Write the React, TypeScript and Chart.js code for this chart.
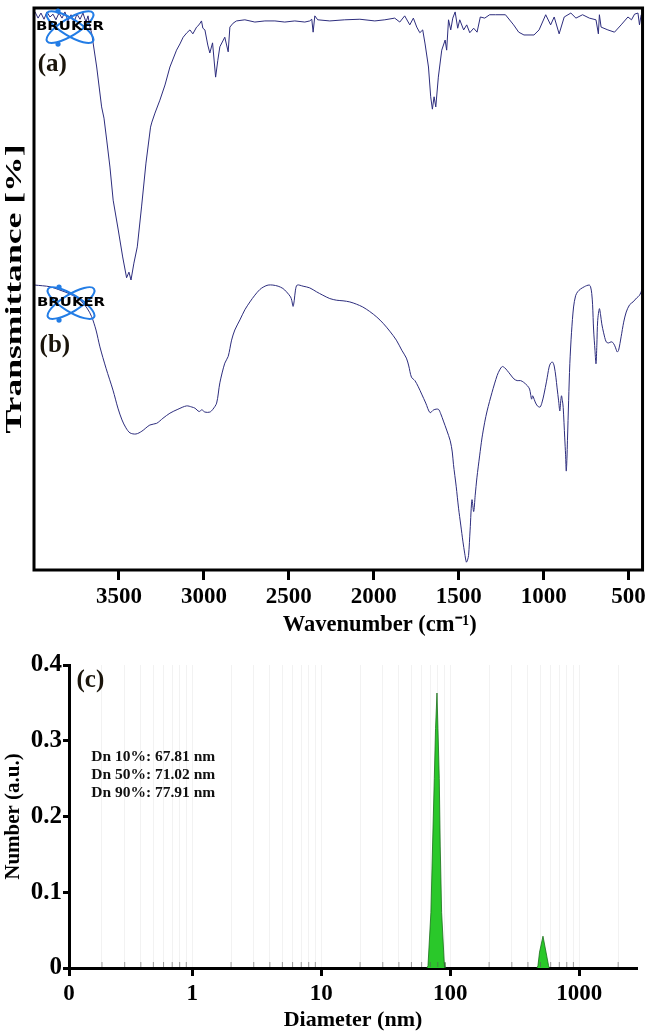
import React, { useEffect, useRef } from "react";
import { Chart, registerables } from "chart.js";

Chart.register(...registerables);

// ---------- FTIR (panels a, b) ----------
const FTIR_TICKS = [3500, 3000, 2500, 2000, 1500, 1000, 500];
const FTIR_X_TITLE = "Wavenumber (cm\u207B\u00B9)";
const FTIR_Y_TITLE = "Transmittance [%]";

const WAVE_A = [
  3994, 3976, 3959, 3941, 3924, 3906, 3888, 3871, 3853, 3835,
  3818, 3800, 3782, 3765, 3747, 3729, 3712, 3694, 3682, 3671,
  3661, 3631, 3602, 3588, 3572, 3553, 3534, 3504, 3478, 3455,
  3441, 3429, 3412, 3392, 3367, 3341, 3314, 3306, 3288, 3259,
  3229, 3200, 3161, 3141, 3122, 3100, 3082, 3065, 3043, 3029,
  3014, 3006, 2994, 2977, 2965, 2949, 2931, 2918, 2906, 2877,
  2857, 2847, 2828, 2808, 2759, 2700, 2641, 2582, 2524, 2465,
  2406, 2377, 2365, 2357, 2347, 2330, 2259, 2171, 2082, 1994,
  1935, 1877, 1847, 1818, 1788, 1767, 1747, 1729, 1712, 1698,
  1678, 1665, 1655, 1645, 1635, 1620, 1600, 1580, 1571, 1560,
  1547, 1535, 1521, 1506, 1494, 1471, 1453, 1435, 1412, 1392,
  1373, 1347, 1318, 1284, 1225, 1177, 1147, 1116, 1057, 1027,
  988, 959, 938, 909, 879, 840, 810, 771, 731, 692,
  678, 672, 662, 622, 583, 544, 504, 483, 465, 445,
  436, 426,
];
const TRANS_A = [
  99.3, 98.2, 99.1, 98.0, 99.3, 98.4, 98.9, 97.9, 99.1, 98.2,
  99.3, 97.7, 98.8, 97.5, 98.9, 98.0, 99.1, 97.5, 98.6, 96.6,
  95.6, 89.5, 82.4, 80.4, 76.5, 71.7, 65.8, 60.5, 55.7, 52.0,
  53.0, 51.6, 54.6, 57.5, 64.6, 72.4, 78.8, 79.7, 81.3, 83.6,
  86.3, 89.5, 92.5, 93.6, 94.8, 95.6, 96.1, 95.4, 96.6, 97.0,
  97.7, 96.4, 96.1, 93.4, 92.0, 93.8, 87.7, 90.7, 93.1, 94.8,
  92.2, 96.6, 97.3, 97.7, 97.9, 97.5, 97.7, 97.7, 97.5, 97.7,
  97.5, 97.7, 98.0, 95.7, 98.6, 97.9, 97.7, 97.9, 98.0, 97.7,
  97.9, 98.2, 97.5, 98.6, 97.0, 98.2, 96.6, 95.6, 96.1, 93.6,
  89.5, 84.2, 82.0, 84.2, 82.4, 87.7, 92.5, 94.3, 92.5, 97.9,
  96.1, 98.2, 99.3, 96.4, 97.9, 96.1, 97.0, 95.6, 96.4, 95.7,
  98.4, 98.2, 98.8, 98.8, 98.8, 97.0, 95.7, 95.2, 95.2, 96.1,
  98.8, 97.0, 98.4, 95.4, 98.4, 99.1, 98.2, 98.8, 98.2, 97.9,
  95.4, 98.8, 96.6, 96.1, 95.7, 97.0, 98.4, 97.9, 98.9, 99.1,
  97.0, 98.8,
];

const WAVE_B = [
  3994, 3906, 3847, 3788, 3729, 3688, 3661, 3635, 3612, 3576,
  3535, 3506, 3482, 3459, 3435, 3400, 3365, 3318, 3278, 3241,
  3200, 3153, 3102, 3071, 3053, 3028, 3012, 2994, 2965, 2947,
  2925, 2906, 2877, 2857, 2837, 2818, 2788, 2759, 2729, 2700,
  2671, 2647, 2622, 2594, 2563, 2535, 2514, 2490, 2483, 2475,
  2468, 2461, 2451, 2416, 2377, 2337, 2300, 2259, 2218, 2181,
  2141, 2102, 2065, 2024, 1982, 1945, 1906, 1867, 1835, 1808,
  1794, 1778, 1758, 1738, 1718, 1694, 1669, 1647, 1620, 1606,
  1590, 1571, 1550, 1538, 1531, 1515, 1501, 1488, 1475, 1465,
  1455, 1448, 1442, 1433, 1422, 1412, 1403, 1393, 1377, 1363,
  1347, 1333, 1304, 1274, 1259, 1244, 1230, 1215, 1194, 1175,
  1156, 1136, 1118, 1096, 1083, 1077, 1071, 1065, 1061, 1050,
  1037, 1021, 1009, 998, 983, 968, 959, 948, 938, 928,
  921, 912, 905, 900, 895, 890, 885, 876, 871, 867,
  863, 860, 853, 846, 836, 824, 812, 800, 783, 761,
  747, 731, 724, 717, 712, 706, 698, 692, 687, 682,
  672, 665, 658, 647, 632, 618, 603, 594, 583, 574,
  567, 559, 544, 529, 514, 494, 474, 453, 435, 420,
];
const TRANS_B = [
  50.7, 50.4, 49.8, 49.1, 48.0, 46.6, 45.1, 42.7, 39.7, 35.9,
  32.0, 28.8, 26.7, 25.3, 24.4, 24.2, 24.7, 25.8, 26.1, 27.0,
  27.9, 28.6, 29.2, 29.0, 28.8, 28.2, 28.5, 28.1, 28.1, 28.6,
  29.7, 33.3, 36.8, 38.0, 40.9, 42.7, 44.5, 46.3, 47.7, 48.9,
  49.9, 50.4, 50.7, 50.7, 50.5, 50.1, 49.5, 48.6, 48.0, 46.9,
  48.0, 49.8, 50.7, 50.5, 50.2, 49.5, 48.9, 48.3, 48.0, 47.9,
  47.7, 47.3, 46.8, 46.0, 45.0, 43.9, 42.5, 40.9, 39.1, 37.7,
  36.3, 34.3, 33.7, 32.6, 31.3, 29.7, 28.0, 28.5, 28.6, 27.8,
  26.5, 24.9, 23.0, 21.0, 18.8, 14.9, 11.0, 8.0, 5.0, 3.0,
  1.4, 1.8, 2.6, 7.1, 12.5, 10.4, 13.3, 16.4, 20.3, 23.5,
  26.3, 28.3, 31.6, 34.6, 35.6, 36.2, 36.0, 35.5, 34.7, 34.0,
  33.7, 33.7, 33.4, 32.8, 32.2, 31.3, 30.4, 31.0, 30.8, 29.9,
  29.2, 29.0, 29.9, 31.3, 33.6, 36.1, 36.8, 37.0, 36.3, 34.3,
  32.4, 30.1, 28.3, 29.9, 31.0, 30.2, 28.9, 23.5, 20.5, 17.6,
  19.9, 23.0, 30.2, 36.7, 42.3, 46.8, 48.8, 49.5, 50.0, 50.4,
  50.6, 50.7, 50.4, 49.2, 47.2, 42.7, 39.1, 36.7, 40.0, 44.4,
  46.5, 45.4, 43.8, 42.2, 40.6, 40.4, 40.6, 40.5, 40.0, 39.3,
  38.8, 39.1, 41.5, 44.1, 45.9, 47.2, 47.7, 48.4, 48.9, 50.0,
];

// ---------- DLS (panel c) ----------
const DLS_D1 = [66, 67.2, 70.8, 72.9, 75.2, 76.9, 78.9, 80.3, 82.2, 83.6, 85.7, 89.8, 91];
const DLS_N1 = [0, 0.003, 0.0735, 0.161, 0.25, 0.316, 0.363, 0.316, 0.25, 0.161, 0.0735, 0.0075, 0];
const DLS_D2 = [470, 478, 492, 523, 552, 578, 585];
const DLS_N2 = [0, 0.003, 0.021, 0.042, 0.021, 0.003, 0];
const DLS_MAJOR = [0.111, 1, 10, 100, 1000];
const DLS_MAJOR_LABELS = ["0", "1", "10", "100", "1000"];
const DLS_MINOR_MULT = [2, 3, 4, 5, 6, 7, 8, 9];
const DLS_DECADES = [0.1, 1, 10, 100, 1000];
const DLS_Y_TICKS = [0, 0.1, 0.2, 0.3, 0.4];
const DN_LINES = ["Dn 10%: 67.81 nm", "Dn 50%: 71.02 nm", "Dn 90%: 77.91 nm"];

const SERIF = "'Liberation Serif', 'Times New Roman', serif";
const LINE_COLOR = "rgb(45,45,125)";
const LOGO_BLUE = "rgb(35,125,230)";

function drawLogo(ctx: CanvasRenderingContext2D, cx: number, cy: number) {
  ctx.save();
  ctx.strokeStyle = LOGO_BLUE;
  ctx.lineWidth = 2;
  for (const rot of [0.55, -0.55]) {
    ctx.beginPath();
    ctx.ellipse(cx, cy, 27, 8.5, rot, 0, Math.PI * 2);
    ctx.stroke();
  }
  ctx.fillStyle = LOGO_BLUE;
  ctx.beginPath();
  ctx.arc(cx - 12, cy - 16, 2.6, 0, Math.PI * 2);
  ctx.fill();
  ctx.beginPath();
  ctx.arc(cx - 12, cy + 17, 2.6, 0, Math.PI * 2);
  ctx.fill();
  ctx.fillStyle = "#000";
  ctx.font = "bold 12px 'DejaVu Sans'";
  ctx.textBaseline = "middle";
  ctx.textAlign = "center";
  const w = ctx.measureText("BRUKER").width;
  ctx.translate(cx, cy);
  ctx.scale(68 / w, 1);
  ctx.fillText("BRUKER", 0, 0);
  ctx.restore();
}

const ftirDecor = {
  id: "ftirDecor",
  afterDatasetsDraw(chart: any) {
    const { ctx, chartArea: a, scales } = chart;
    const xs = scales.x;
    const ys = scales.y;
    ctx.save();
    ctx.lineWidth = 3;
    ctx.strokeStyle = "#000";
    ctx.strokeRect(a.left, a.top, a.right - a.left, a.bottom - a.top);
    drawLogo(ctx, xs.getPixelForValue(3788), ys.getPixelForValue(96.6));
    drawLogo(ctx, xs.getPixelForValue(3782), ys.getPixelForValue(47.5));
    ctx.fillStyle = "#1a140a";
    ctx.font = `bold 25px ${SERIF}`;
    ctx.textBaseline = "middle";
    ctx.textAlign = "left";
    ctx.fillText("(a)", xs.getPixelForValue(3978), ys.getPixelForValue(90));
    ctx.fillText("(b)", xs.getPixelForValue(3967), ys.getPixelForValue(40));
    // axis titles
    ctx.fillStyle = "#000";
    ctx.textAlign = "center";
    ctx.font = `bold 22.5px ${SERIF}`;
    ctx.fillText(FTIR_X_TITLE, xs.getPixelForValue(1965), a.bottom + 55);
    ctx.translate(a.left - 19, (a.top + a.bottom) / 2);
    ctx.rotate(-Math.PI / 2);
    ctx.font = `bold 24px ${SERIF}`;
    const w = ctx.measureText(FTIR_Y_TITLE).width;
    ctx.scale(289 / w, 1);
    ctx.fillText(FTIR_Y_TITLE, 0, 0);
    ctx.restore();
  },
};

const dlsDecor = {
  id: "dlsDecor",
  afterDatasetsDraw(chart: any) {
    const { ctx, scales, chartArea: a } = chart;
    const xs = scales.x;
    const ys = scales.y;
    ctx.save();
    // small inward minor ticks
    ctx.strokeStyle = "rgba(90,90,90,0.6)";
    ctx.lineWidth = 1;
    xs.ticks.forEach((t: any) => {
      if (DLS_MAJOR.includes(t.value)) return;
      const px = xs.getPixelForValue(t.value);
      ctx.beginPath();
      ctx.moveTo(px, a.bottom - 1);
      ctx.lineTo(px, a.bottom - 6);
      ctx.stroke();
    });
    ctx.fillStyle = "#1a140a";
    ctx.textBaseline = "middle";
    ctx.textAlign = "left";
    ctx.font = `bold 25px ${SERIF}`;
    ctx.fillText("(c)", xs.getPixelForValue(0.127), ys.getPixelForValue(0.38));
    ctx.fillStyle = "#111";
    ctx.font = `bold 15.5px ${SERIF}`;
    const x0 = xs.getPixelForValue(0.165);
    const y0 = ys.getPixelForValue(0.279);
    DN_LINES.forEach((t, i) => ctx.fillText(t, x0, y0 + i * 18));
    ctx.restore();
  },
};

export default function App() {
  const topRef = useRef<HTMLCanvasElement>(null);
  const botRef = useRef<HTMLCanvasElement>(null);

  useEffect(() => {
    const top = new Chart(topRef.current!, {
      type: "line",
      data: {
        datasets: [
          {
            data: WAVE_A.map((w, i) => ({ x: w, y: TRANS_A[i] })),
            borderColor: LINE_COLOR,
            borderWidth: 1,
            pointRadius: 0,
            tension: 0,
          },
          {
            data: WAVE_B.map((w, i) => ({ x: w, y: TRANS_B[i] })),
            borderColor: LINE_COLOR,
            borderWidth: 1,
            pointRadius: 0,
            tension: 0.3,
          },
        ],
      },
      options: {
        animation: false,
        responsive: false,
        events: [],
        layout: { padding: { top: 8, right: 6, left: 0, bottom: 0 } },
        plugins: { legend: { display: false }, tooltip: { enabled: false } },
        scales: {
          x: {
            type: "linear",
            reverse: true,
            min: 418,
            max: 4000,
            afterFit: (s: any) => { s.height = 70; },
            afterBuildTicks: (s: any) => { s.ticks = FTIR_TICKS.map((v) => ({ value: v })); },
            ticks: {
              color: "#000",
              font: { family: SERIF, weight: "bold" as const, size: 23 },
              padding: 3,
              autoSkip: false,
              maxRotation: 0,
              callback: (v: any) => String(v),
            },
            grid: { drawOnChartArea: false, tickLength: 10, tickWidth: 3, tickColor: "#000" },
            border: { display: false },
            title: { display: false },
          },
          y: {
            min: 0,
            max: 100,
            afterFit: (s: any) => { s.width = 34; },
            ticks: { display: false },
            grid: { display: false },
            border: { display: false },
            title: { display: false },
          },
        },
      },
      plugins: [ftirDecor],
    });

    const minorTicks: number[] = [];
    DLS_DECADES.forEach((d) => DLS_MINOR_MULT.forEach((m) => {
      const v = d * m;
      if (v < 2800) minorTicks.push(v);
    }));

    const bot = new Chart(botRef.current!, {
      type: "line",
      data: {
        datasets: [
          {
            data: DLS_D1.map((d, i) => ({ x: d, y: DLS_N1[i] })),
            borderColor: "rgb(25,110,25)",
            backgroundColor: "rgb(42,200,42)",
            borderWidth: 0.8,
            pointRadius: 0,
            fill: "origin",
            tension: 0,
          },
          {
            data: DLS_D2.map((d, i) => ({ x: d, y: DLS_N2[i] })),
            borderColor: "rgb(25,110,25)",
            backgroundColor: "rgb(42,200,42)",
            borderWidth: 0.8,
            pointRadius: 0,
            fill: "origin",
            tension: 0,
          },
        ],
      },
      options: {
        animation: false,
        responsive: false,
        events: [],
        layout: { padding: { top: 25, right: 12, left: 0, bottom: 0 } },
        plugins: { legend: { display: false }, tooltip: { enabled: false } },
        scales: {
          x: {
            type: "logarithmic",
            min: 0.111,
            max: 2800,
            afterFit: (s: any) => { s.height = 67; },
            afterBuildTicks: (s: any) => {
              const all = [...DLS_MAJOR, ...minorTicks].sort((p, q) => p - q);
              s.ticks = all.map((v) => ({ value: v }));
            },
            ticks: {
              color: "#000",
              font: { family: SERIF, weight: "bold" as const, size: 23 },
              padding: 4,
              autoSkip: false,
              maxRotation: 0,
              callback: (v: any) => {
                const i = DLS_MAJOR.indexOf(v);
                return i >= 0 ? DLS_MAJOR_LABELS[i] : "";
              },
            },
            grid: {
              drawOnChartArea: true,
              tickLength: 8,
              tickWidth: 3,
              lineWidth: 1,
              color: "rgba(0,0,0,0.05)",
              tickColor: (c: any) => (DLS_MAJOR.includes(c.tick?.value) ? "#000" : "rgba(0,0,0,0)"),
            },
            border: { display: true, width: 3, color: "#000" },
            title: {
              display: true,
              text: "Diameter (nm)",
              color: "#000",
              font: { family: SERIF, weight: "bold" as const, size: 22 },
              padding: { top: 0, bottom: 1 },
            },
          },
          y: {
            min: 0,
            max: 0.4,
            afterFit: (s: any) => { s.width = 69; },
            afterBuildTicks: (s: any) => { s.ticks = DLS_Y_TICKS.map((v) => ({ value: v })); },
            ticks: {
              color: "#000",
              font: { family: SERIF, weight: "bold" as const, size: 25 },
              padding: 1,
              callback: (v: any) => (v === 0 ? "0" : Number(v).toFixed(1)),
            },
            grid: { drawOnChartArea: false, tickLength: 6, tickWidth: 3, tickColor: "#000" },
            border: { display: true, width: 3, color: "#000" },
            title: {
              display: true,
              text: "Number (a.u.)",
              color: "#000",
              font: { family: SERIF, weight: "bold" as const, size: 21 },
              padding: { top: 1, bottom: 0 },
            },
          },
        },
      },
      plugins: [dlsDecor],
    });

    return () => {
      top.destroy();
      bot.destroy();
    };
  }, []);

  return (
    <div style={{ position: "absolute", left: 0, top: 0, width: 649, height: 1035, background: "#fff" }}>
      <canvas ref={topRef} width={649} height={640} style={{ position: "absolute", left: 0, top: 0, width: 649, height: 640 }} />
      <canvas ref={botRef} width={649} height={395} style={{ position: "absolute", left: 0, top: 640, width: 649, height: 395 }} />
    </div>
  );
}
